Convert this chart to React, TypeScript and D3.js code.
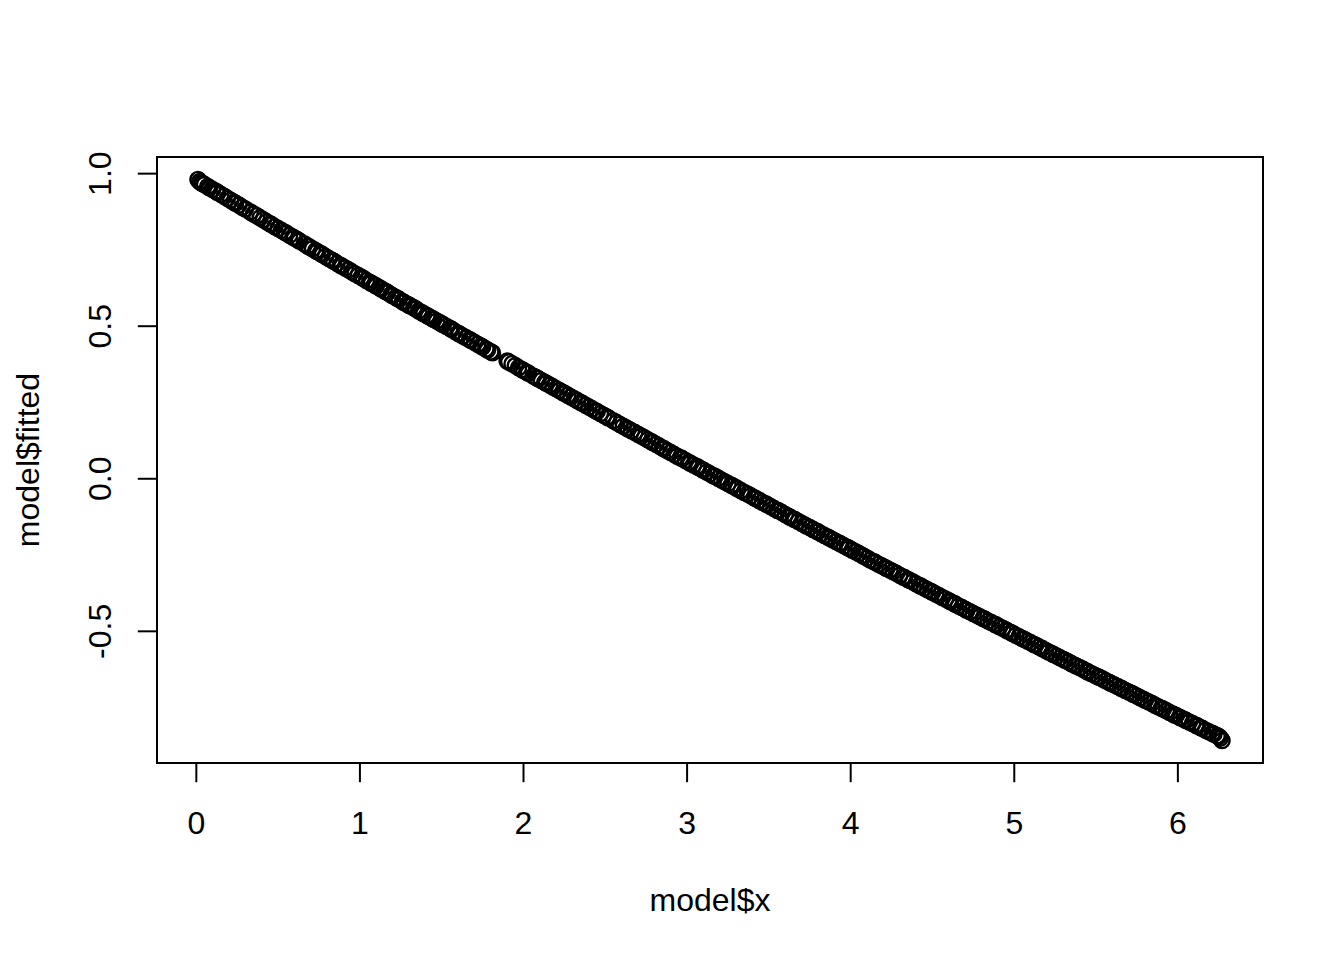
import React from "react";
import * as d3 from "d3";

const modelX = [
  0.01, 0.03, 0.05, 0.08, 0.12, 0.15, 0.19, 0.21, 0.26, 0.28, 0.33, 0.37, 0.41, 0.43, 0.48,
  0.52, 0.57, 0.6, 0.63, 0.68, 0.71, 0.74, 0.77, 0.81, 0.86, 0.89, 0.93, 0.97,
  1.01, 1.04, 1.06, 1.09, 1.12, 1.15, 1.17, 1.2, 1.23, 1.26, 1.29, 1.31, 1.34, 1.38, 1.41, 1.44, 1.47, 1.5,
  1.53, 1.56, 1.6, 1.63, 1.67, 1.7, 1.74, 1.78, 1.81, 1.9, 1.93, 1.97,
  2.0, 2.03, 2.08, 2.11, 2.13, 2.18, 2.22, 2.25, 2.29, 2.33, 2.36, 2.4, 2.44, 2.47,
  2.52, 2.55, 2.59, 2.63, 2.66, 2.7, 2.72, 2.76, 2.79, 2.83, 2.86, 2.9, 2.94, 2.97,
  3.01, 3.04, 3.07, 3.1, 3.14, 3.17, 3.21, 3.25, 3.28, 3.31, 3.35, 3.39, 3.42, 3.46, 3.49,
  3.53, 3.56, 3.6, 3.63, 3.66, 3.7, 3.73, 3.77, 3.8, 3.84, 3.87, 3.91, 3.94, 3.98,
  4.01, 4.05, 4.08, 4.12, 4.15, 4.19, 4.22, 4.26, 4.3, 4.33, 4.36, 4.4, 4.43, 4.47, 4.5,
  4.54, 4.58, 4.61, 4.64, 4.68, 4.71, 4.75, 4.79, 4.82, 4.86, 4.89, 4.93, 4.96, 4.99,
  5.03, 5.06, 5.1, 5.13, 5.17, 5.21, 5.24, 5.28, 5.31, 5.35, 5.38, 5.42, 5.45, 5.49,
  5.52, 5.56, 5.59, 5.63, 5.66, 5.7, 5.73, 5.77, 5.8, 5.84, 5.88, 5.91, 5.95, 5.98,
  6.02, 6.05, 6.09, 6.12, 6.15, 6.19, 6.22, 6.25, 6.27,
  0.02, 0.04, 0.07, 0.1, 0.13, 0.17, 0.23, 0.24, 0.3, 0.35, 0.39, 0.45, 0.46, 0.5,
  0.54, 0.55, 0.59, 0.62, 0.66, 0.69, 0.73, 0.76, 0.79, 0.83, 0.84, 0.88, 0.91, 0.95, 0.99,
  1.02, 1.07, 1.1, 1.13, 1.16, 1.19, 1.22, 1.24, 1.27, 1.3, 1.33, 1.36, 1.39, 1.42, 1.45, 1.49,
  1.51, 1.55, 1.58, 1.61, 1.65, 1.68, 1.72, 1.75, 1.77, 1.8, 1.91, 1.95, 1.99,
  2.02, 2.06, 2.09, 2.14, 2.16, 2.2, 2.24, 2.27, 2.31, 2.35, 2.38, 2.42, 2.45, 2.49,
  2.51, 2.57, 2.61, 2.64, 2.68, 2.74, 2.78, 2.81, 2.85, 2.88, 2.92, 2.96, 2.99,
  3.02, 3.06, 3.09, 3.12, 3.16, 3.19, 3.23, 3.27, 3.3, 3.33, 3.37, 3.41, 3.44, 3.48,
  3.51, 3.55, 3.58, 3.62, 3.65, 3.68, 3.72, 3.75, 3.79, 3.82, 3.86, 3.89, 3.93, 3.96, 3.99,
  4.03, 4.07, 4.1, 4.14, 4.17, 4.21, 4.24, 4.28, 4.32, 4.35, 4.38, 4.42, 4.45, 4.49,
  4.52, 4.56, 4.6, 4.63, 4.66, 4.7, 4.73, 4.77, 4.81, 4.84, 4.88, 4.91, 4.95, 4.98,
  5.01, 5.05, 5.08, 5.12, 5.15, 5.19, 5.23, 5.26, 5.3, 5.33, 5.37, 5.4, 5.44, 5.47,
  5.51, 5.54, 5.58, 5.61, 5.65, 5.68, 5.72, 5.75, 5.79, 5.82, 5.86, 5.9, 5.93, 5.97, 5.99,
  6.01, 6.04, 6.07, 6.11, 6.14, 6.17, 6.21, 6.24, 6.26,
];

const modelFitted = [
  0.981, 0.97, 0.964, 0.954, 0.942, 0.932, 0.919, 0.913, 0.897, 0.89, 0.874, 0.862, 0.849, 0.842, 0.826,
  0.814, 0.798, 0.789, 0.779, 0.763, 0.754, 0.744, 0.735, 0.722, 0.706, 0.697, 0.685, 0.672,
  0.66, 0.65, 0.644, 0.635, 0.626, 0.616, 0.61, 0.6, 0.591, 0.581, 0.572, 0.566, 0.557, 0.544, 0.535, 0.526, 0.517, 0.508,
  0.499, 0.49, 0.477, 0.468, 0.456, 0.447, 0.435, 0.422, 0.413, 0.386, 0.377, 0.364,
  0.355, 0.346, 0.331, 0.322, 0.316, 0.301, 0.289, 0.28, 0.268, 0.256, 0.247, 0.235, 0.223, 0.214,
  0.199, 0.19, 0.178, 0.166, 0.157, 0.146, 0.14, 0.128, 0.119, 0.107, 0.098, 0.086, 0.074, 0.066,
  0.054, 0.045, 0.037, 0.028, 0.016, 0.008, -0.004, -0.016, -0.024, -0.033, -0.045, -0.056, -0.065, -0.077, -0.085,
  -0.097, -0.105, -0.117, -0.126, -0.134, -0.146, -0.155, -0.166, -0.174, -0.186, -0.194, -0.206, -0.214, -0.225,
  -0.234, -0.245, -0.254, -0.266, -0.274, -0.285, -0.294, -0.305, -0.316, -0.324, -0.333, -0.344, -0.352, -0.364, -0.372,
  -0.383, -0.394, -0.403, -0.411, -0.422, -0.431, -0.442, -0.452, -0.46, -0.471, -0.479, -0.49, -0.499, -0.507,
  -0.518, -0.526, -0.537, -0.545, -0.556, -0.568, -0.576, -0.587, -0.595, -0.606, -0.614, -0.624, -0.633, -0.643,
  -0.651, -0.662, -0.67, -0.68, -0.688, -0.699, -0.707, -0.718, -0.726, -0.736, -0.747, -0.755, -0.766, -0.774,
  -0.784, -0.792, -0.802, -0.81, -0.818, -0.829, -0.837, -0.845, -0.858,
  0.974, 0.967, 0.958, 0.948, 0.938, 0.926, 0.906, 0.903, 0.884, 0.868, 0.855, 0.836, 0.833, 0.82,
  0.808, 0.805, 0.792, 0.783, 0.77, 0.76, 0.747, 0.738, 0.728, 0.716, 0.713, 0.7, 0.691, 0.678, 0.666,
  0.657, 0.641, 0.632, 0.622, 0.613, 0.603, 0.594, 0.588, 0.578, 0.569, 0.56, 0.55, 0.541, 0.532, 0.523, 0.511,
  0.505, 0.493, 0.483, 0.474, 0.462, 0.453, 0.441, 0.432, 0.425, 0.416, 0.383, 0.371, 0.358,
  0.349, 0.337, 0.328, 0.313, 0.307, 0.295, 0.283, 0.274, 0.262, 0.25, 0.241, 0.229, 0.22, 0.208,
  0.202, 0.184, 0.172, 0.163, 0.152, 0.134, 0.122, 0.113, 0.101, 0.092, 0.08, 0.069, 0.06,
  0.051, 0.04, 0.031, 0.022, 0.01, 0.002, -0.01, -0.021, -0.03, -0.039, -0.05, -0.062, -0.071, -0.082,
  -0.091, -0.103, -0.111, -0.123, -0.132, -0.14, -0.152, -0.16, -0.171, -0.18, -0.191, -0.2, -0.211, -0.22, -0.228,
  -0.239, -0.251, -0.26, -0.271, -0.28, -0.291, -0.299, -0.31, -0.322, -0.33, -0.338, -0.35, -0.358, -0.369,
  -0.378, -0.389, -0.4, -0.408, -0.417, -0.428, -0.436, -0.447, -0.458, -0.466, -0.477, -0.485, -0.496, -0.504,
  -0.513, -0.524, -0.532, -0.543, -0.551, -0.562, -0.573, -0.581, -0.592, -0.6, -0.611, -0.619, -0.63, -0.638,
  -0.649, -0.656, -0.667, -0.675, -0.686, -0.694, -0.704, -0.712, -0.723, -0.731, -0.742, -0.752, -0.76, -0.771, -0.776,
  -0.782, -0.789, -0.797, -0.808, -0.816, -0.824, -0.834, -0.842, -0.85,
];

const xTicks = [0, 1, 2, 3, 4, 5, 6];
const yTicks = [-0.5, 0, 0.5, 1.0];
const yTickLabels = ["-0.5", "0.0", "0.5", "1.0"];
const xTitle = "model$x";
const yTitle = "model$fitted";

const FONT = "'Liberation Sans', Arial, Helvetica, sans-serif";

export default function App() {
  const W = 1344;
  const H = 960;
  const left = 157;
  const right = 1263;
  const top = 157;
  const bottom = 763;

  const [xmin, xmax] = d3.extent(modelX) as [number, number];
  const [ymin, ymax] = d3.extent(modelFitted) as [number, number];
  const xp = (xmax - xmin) * 0.04;
  const yp = (ymax - ymin) * 0.04;

  const x = d3.scaleLinear().domain([xmin - xp, xmax + xp]).range([left, right]);
  const y = d3.scaleLinear().domain([ymin - yp, ymax + yp]).range([bottom, top]);

  const tick = 19.2;
  const pts = modelX.map((v, i) => [v, modelFitted[i]]);

  return (
    <div style={{ position: "absolute", left: 0, top: 0, width: W, height: H, background: "#fff" }}>
      <svg width={W} height={H} style={{ display: "block" }}>
        <rect x={0} y={0} width={W} height={H} fill="#fff" />
        <g fill="none" stroke="#000" strokeWidth={2.4}>
          {pts.map((p, i) => (
            <circle key={i} cx={x(p[0])} cy={y(p[1])} r={7.6} />
          ))}
        </g>
        <rect x={left} y={top} width={right - left} height={bottom - top} fill="none" stroke="#000" strokeWidth={2} />
        <g stroke="#000" strokeWidth={2}>
          <line x1={x(xTicks[0])} x2={x(xTicks[xTicks.length - 1])} y1={bottom} y2={bottom} />
          {xTicks.map((t) => (
            <line key={t} x1={x(t)} x2={x(t)} y1={bottom} y2={bottom + tick} />
          ))}
          <line x1={left} x2={left} y1={y(yTicks[0])} y2={y(yTicks[yTicks.length - 1])} />
          {yTicks.map((t) => (
            <line key={t} x1={left} x2={left - tick} y1={y(t)} y2={y(t)} />
          ))}
        </g>
        <g fontFamily={FONT} fontSize={32} fill="#000">
          {xTicks.map((t) => (
            <text key={t} x={x(t)} y={834} textAnchor="middle">
              {String(t)}
            </text>
          ))}
          {yTicks.map((t, i) => (
            <text key={t} transform={`translate(111,${y(t)}) rotate(-90)`} textAnchor="middle">
              {yTickLabels[i]}
            </text>
          ))}
          <text x={(left + right) / 2} y={911} textAnchor="middle">
            {xTitle}
          </text>
          <text transform={`translate(39,${(top + bottom) / 2}) rotate(-90)`} textAnchor="middle">
            {yTitle}
          </text>
        </g>
      </svg>
    </div>
  );
}
